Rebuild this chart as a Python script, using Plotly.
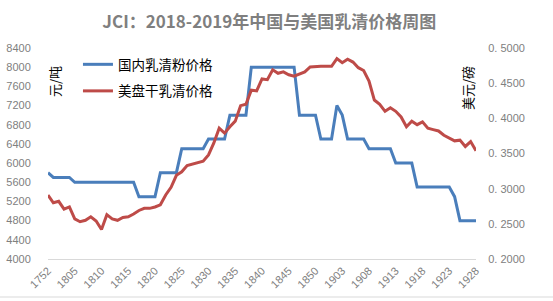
import plotly.graph_objects as go

# ---------------- data ----------------
weeks = ["1752"] + [f"18{w:02d}" for w in range(1, 53)] + [f"19{w:02d}" for w in range(1, 29)]

domestic_price = (
    [5800] + [5700] * 4 + [5600] * 12 + [5300] * 4 + [5800] * 4 + [6300] * 5
    + [6500] * 4 + [7000] * 4 + [8000] * 9 + [7000] * 4 + [6500] * 3 + [7200, 7000]
    + [6500] * 4 + [6300] * 5 + [6000] * 4 + [5500] * 7 + [5300] + [4800] * 4
)

us_price = [
    0.291, 0.280, 0.282, 0.271, 0.274, 0.257, 0.253, 0.255, 0.260, 0.254,
    0.242, 0.263, 0.257, 0.255, 0.259, 0.260, 0.264, 0.269, 0.272, 0.272,
    0.274, 0.277, 0.291, 0.302, 0.319, 0.324, 0.333, 0.335, 0.336, 0.339,
    0.348, 0.365, 0.386, 0.379, 0.388, 0.396, 0.418, 0.420, 0.440, 0.439,
    0.456, 0.455, 0.469, 0.464, 0.466, 0.462, 0.460, 0.463, 0.466, 0.473,
    0.474, 0.474, 0.474, 0.474, 0.485, 0.479, 0.484, 0.480, 0.472, 0.468,
    0.453, 0.426, 0.420, 0.410, 0.415, 0.410, 0.402, 0.388, 0.396, 0.391,
    0.395, 0.386, 0.384, 0.382, 0.376, 0.372, 0.368, 0.369, 0.360, 0.367,
    0.354,
]

left_ticks = list(range(4000, 8401, 400))
right_ticks = [0.20, 0.25, 0.30, 0.35, 0.40, 0.45, 0.50]
right_ticktext = ["0. 2000", "0. 2500", "0. 3000", "0. 3500", "0. 4000", "0. 4500", "0. 5000"]
x_tick_labels = weeks[::5]

title_text = "JCI：2018-2019年中国与美国乳清价格周图"
name_domestic = "国内乳清粉价格"
name_us = "美盘干乳清价格"

# ---------------- figure ----------------
W, H = 553, 301
L, R, T, B = 48, 77, 48, 42

fig = go.Figure()
fig.add_trace(go.Scatter(
    x=weeks, y=domestic_price, name=name_domestic, mode="lines",
    line=dict(color="#4A7EBB", width=3), legendgroup="a", yaxis="y",
))
fig.add_trace(go.Scatter(
    x=weeks, y=us_price, name=name_us, mode="lines",
    line=dict(color="#BE4B48", width=3), legendgroup="b", yaxis="y2",
))

tick_font = dict(family="Liberation Sans, Arial, sans-serif", size=11, color="#808080")

fig.update_layout(
    width=W, height=H,
    margin=dict(l=L, r=R, t=T, b=B, autoexpand=False),
    paper_bgcolor="white", plot_bgcolor="white",
    title=dict(
        text=title_text, x=0.487, xref="container", xanchor="center",
        y=1 - 22 / H, yref="container", yanchor="middle",
        font=dict(family="Noto Sans CJK SC, sans-serif", size=17, color="#7f7f7f", weight="bold"),
    ),
    showlegend=True,
    legend=dict(
        x=0.07, y=0.995, xanchor="left", yanchor="top",
        bgcolor="rgba(0,0,0,0)", borderwidth=0,
        font=dict(family="Noto Sans CJK SC, sans-serif", size=13.5, color="#000000"),
        tracegroupgap=6,
    ),
    xaxis=dict(
        type="category", range=[0, len(weeks) - 1], automargin=False,
        tickmode="array", tickvals=x_tick_labels, ticktext=x_tick_labels,
        tickangle=-45, tickfont=tick_font,
        showline=True, linecolor="#d9d9d9", linewidth=1,
        showgrid=False, zeroline=False, ticks="",
    ),
    yaxis=dict(
        range=[4000, 8400], tickmode="array", tickvals=left_ticks, automargin=False,
        tickfont=tick_font, showgrid=False, zeroline=False, showline=False,
        ticks="outside", ticklen=14, tickcolor="rgba(0,0,0,0)",
    ),
    yaxis2=dict(
        range=[0.2, 0.5], overlaying="y", side="right", automargin=False,
        tickmode="array", tickvals=right_ticks, ticktext=right_ticktext,
        tickfont=tick_font, showgrid=False, zeroline=False, showline=False,
        ticks="outside", ticklen=9, tickcolor="rgba(0,0,0,0)",
    ),
    annotations=[
        dict(text="元/吨", x=54 / W, y=1 - 82 / H, xref="paper", yref="paper",
             xanchor="center", yanchor="middle", textangle=-90, showarrow=False,
             font=dict(family="Noto Sans CJK SC, sans-serif", size=13, color="#000000")),
        dict(text="美元/磅", x=467 / W, y=1 - 88 / H, xref="paper", yref="paper",
             xanchor="center", yanchor="middle", textangle=-90, showarrow=False,
             font=dict(family="Noto Sans CJK SC, sans-serif", size=13, color="#000000")),
    ],
)

# convert annotation positions from pixel (container) to paper coords
for a in fig.layout.annotations:
    px = a.x * W
    py = (1 - a.y) * H
    a.x = (px - L) / (W - L - R)
    a.y = (H - B - py) / (H - T - B)

fig.add_shape(type="line", xref="paper", yref="paper",
              x0=-L / (W - L - R), x1=(W - L) / (W - L - R),
              y0=-(B - 4) / (H - T - B), y1=-(B - 4) / (H - T - B),
              line=dict(color="#d9d9d9", width=1))

fig.write_html("out.html")
